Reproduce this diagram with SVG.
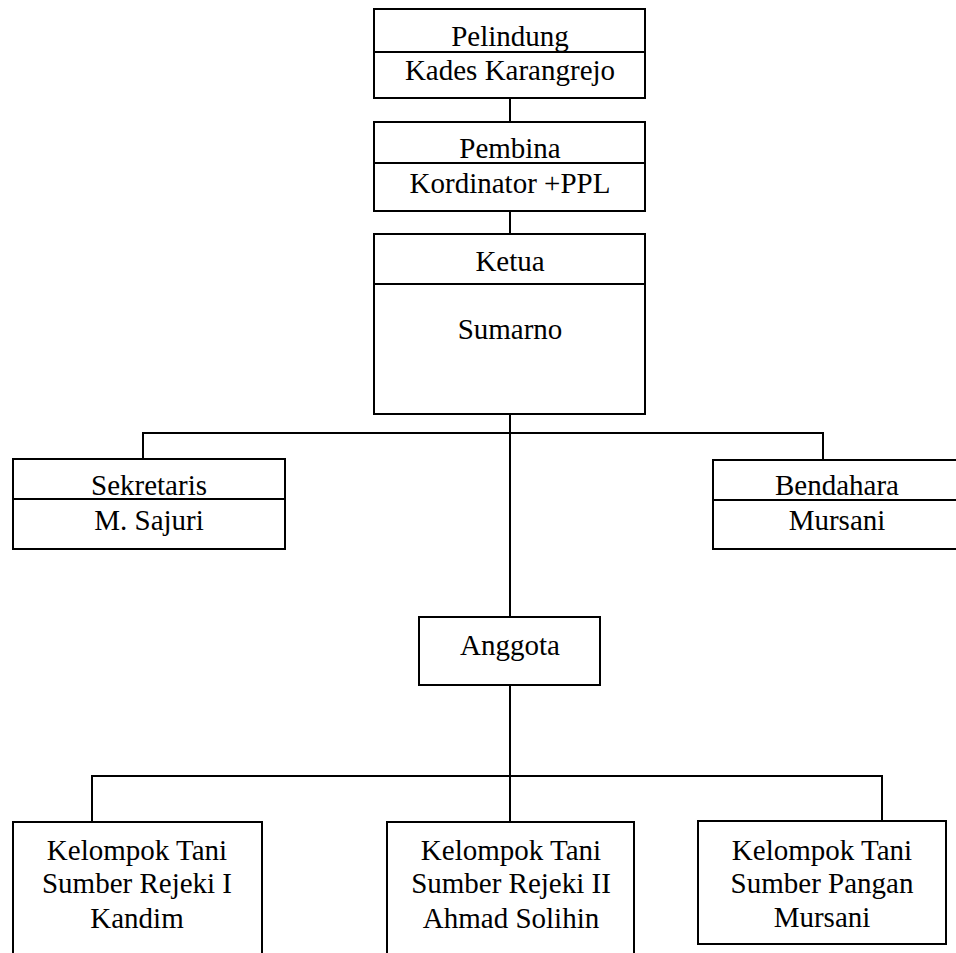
<svg xmlns="http://www.w3.org/2000/svg" width="956" height="953" viewBox="0 0 956 953">
<style>
.box{fill:#fff;stroke:#000;stroke-width:2}
.ln{stroke:#000;stroke-width:2;fill:none}
text{font-family:'Liberation Serif','DejaVu Serif',serif;font-size:29px;fill:#000;text-anchor:middle}
</style>
<rect width="956" height="953" fill="#fff"/>
<g id="connectors">
<line class="ln" x1="510" y1="98" x2="510" y2="122"/>
<line class="ln" x1="510" y1="211" x2="510" y2="234"/>
<line class="ln" x1="510" y1="414" x2="510" y2="617"/>
<polyline class="ln" points="143,459 143,433 823,433 823,460"/>
<line class="ln" x1="510" y1="685" x2="510" y2="822"/>
<polyline class="ln" points="92,822 92,776 882,776 882,821"/>
</g>
<g font-family="Liberation Serif, DejaVu Serif, serif">
<g id="pelindung">
<rect class="box" x="374" y="9" width="271" height="89"/>
<line class="ln" x1="374" y1="52" x2="645" y2="52"/>
<text x="510" y="46" font-family="Liberation Serif, serif">Pelindung</text>
<text x="510" y="80" font-family="Liberation Serif, serif">Kades Karangrejo</text>
</g>
<g id="pembina">
<rect class="box" x="374" y="122" width="271" height="89"/>
<line class="ln" x1="374" y1="163" x2="645" y2="163"/>
<text x="510" y="158">Pembina</text>
<text x="510" y="193">Kordinator +PPL</text>
</g>
<g id="ketua">
<rect class="box" x="374" y="234" width="271" height="180"/>
<line class="ln" x1="374" y1="284" x2="645" y2="284"/>
<text x="510" y="271">Ketua</text>
<text x="510" y="339">Sumarno</text>
</g>
<g id="sekretaris">
<rect class="box" x="13" y="459" width="272" height="90"/>
<line class="ln" x1="13" y1="499" x2="285" y2="499"/>
<text x="149" y="495">Sekretaris</text>
<text x="149" y="530">M. Sajuri</text>
</g>
<g id="bendahara">
<rect class="box" x="713" y="460" width="250" height="89"/>
<line class="ln" x1="713" y1="500" x2="963" y2="500"/>
<text x="837" y="495">Bendahara</text>
<text x="837" y="530">Mursani</text>
</g>
<g id="anggota">
<rect class="box" x="419" y="617" width="181" height="68"/>
<text x="510" y="655">Anggota</text>
</g>
<g id="kt1">
<rect class="box" x="13" y="822" width="249" height="150"/>
<text x="137" y="860">Kelompok Tani</text>
<text x="137" y="893">Sumber Rejeki I</text>
<text x="137" y="928">Kandim</text>
</g>
<g id="kt2">
<rect class="box" x="387" y="822" width="247" height="150"/>
<text x="511" y="860">Kelompok Tani</text>
<text x="511" y="893">Sumber Rejeki II</text>
<text x="511" y="928">Ahmad Solihin</text>
</g>
<g id="kt3">
<rect class="box" x="698" y="821" width="248" height="123"/>
<text x="822" y="860">Kelompok Tani</text>
<text x="822" y="893">Sumber Pangan</text>
<text x="822" y="927">Mursani</text>
</g>
</g>
</svg>
